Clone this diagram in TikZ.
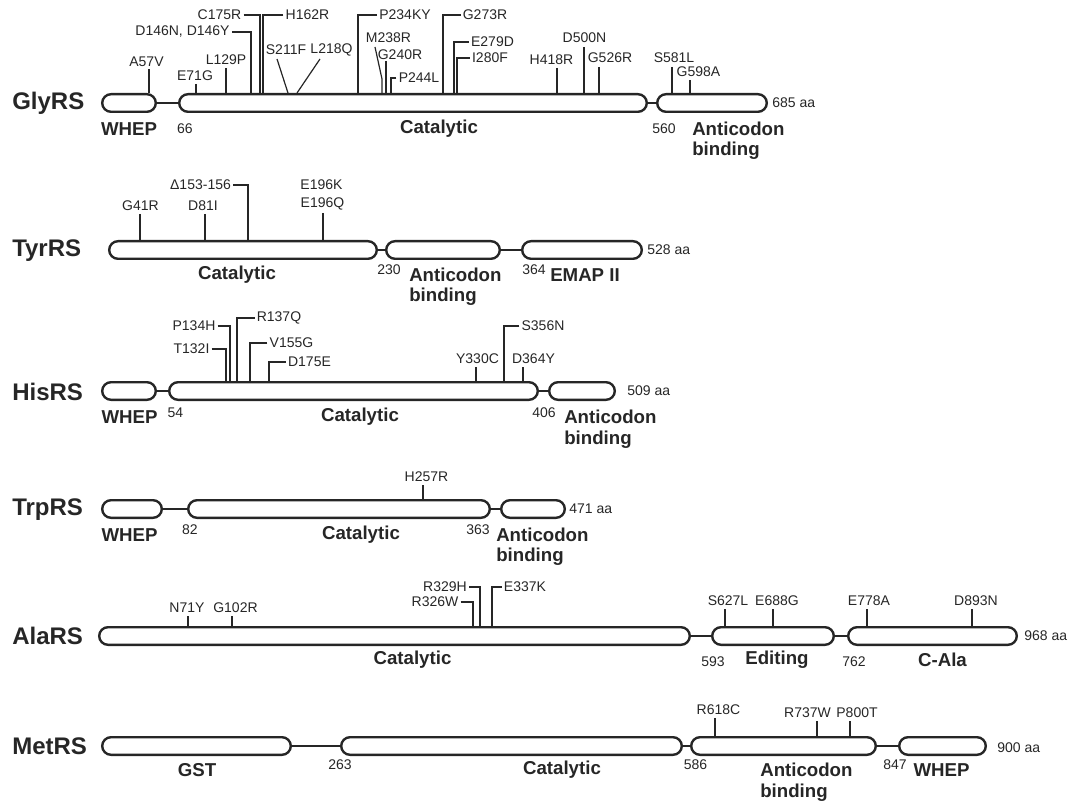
\documentclass[tikz,border=0pt]{standalone}
\usepackage{fontspec}
\setmainfont{Liberation Sans}
\usetikzlibrary{shapes.misc}
\definecolor{ink}{HTML}{262626}
\tikzset{
  dombox/.style={rounded rectangle, draw=ink, line width=1.8pt, minimum height=13.2pt, inner sep=0pt, fill=white},
  linker/.style={draw=ink, line width=1.6pt},
  tick/.style={draw=ink, line width=0.9pt},
  mut/.style={text=ink, font=\fontsize{10.5}{12}\selectfont, inner sep=1.5pt},
  num/.style={text=ink, font=\fontsize{10.5}{12}\selectfont, inner sep=0pt},
  dlab/.style={text=ink, font=\fontsize{14}{16}\selectfont\bfseries, inner sep=0pt},
  pname/.style={text=ink, font=\fontsize{18}{20}\selectfont\bfseries, inner sep=0pt, anchor=west},
}
\newcommand\mkdom[4]{\node[dombox, minimum width={(#3-#2)*0.75pt-1.8pt}] (#1) at ({(#2+#3)/2},#4) {};}
\begin{document}
\begin{tikzpicture}[x=0.75pt,y=-0.75pt]
\path[use as bounding box] (0,0) rectangle (1072,806);

% ================= GlyRS =================
\node[pname] (nGly) at (12,103) {GlyRS};
\mkdom{g1}{101}{157}{103}
\mkdom{g2}{178}{648}{103}
\mkdom{g3}{656}{768}{103}
\draw[linker] (g1.east) -- (g2.west);
\draw[linker] (g2.east) -- (g3.west);
\node[num, anchor=west] (gLen) at (772,103) {685 aa};
\node[dlab] (gD1) at (129,129) {WHEP};
\node[num] (g66) at (185,129) {66};
\node[dlab] (gD2) at (439,129) {Catalytic};
\node[num] (g560) at (664,129) {560};
\node[dlab, anchor=west] (gD3) at (692,129) {Anticodon};
\node[dlab, anchor=west] (gD3b) at (692,151) {binding};

\node[mut] (mA57V) at (146.5,62) {A57V};
\draw[tick] (149,69) -- (149,93);
\node[mut] (mE71G) at (195,76) {E71G};
\draw[tick] (196,84) -- (196,93);
\node[mut] (mL129P) at (226,60) {L129P};
\draw[tick] (226,68) -- (226,93);
\node[mut] (mD146) at (182.5,32) {D146N, D146Y};
\draw[tick] (mD146.east) -| (251,93);
\node[mut] (mC175R) at (219.5,15) {C175R};
\draw[tick] (mC175R.east) -| (260,93);
\node[mut] (mH162R) at (307.5,15) {H162R};
\draw[tick] (mH162R.west) -| (263,93);
\node[mut] (mS211F) at (286,50) {S211F};
\draw[tick] (277,59) -- (288,93);
\node[mut] (mL218Q) at (331.5,50) {L218Q};
\draw[tick] (320,59) -- (297,93);
\node[mut] (mP234KY) at (405,15) {P234KY};
\draw[tick] (mP234KY.west) -| (358,93);
\node[mut] (mM238R) at (388.5,38) {M238R};
\draw[tick] (375,47) -- (382,79) -- (382,93);
\node[mut] (mG240R) at (400,55) {G240R};
\draw[tick] (386,61) -- (386,93);
\node[mut] (mP244L) at (419,78) {P244L};
\draw[tick] (mP244L.west) -| (391,93);
\node[mut] (mG273R) at (485,15) {G273R};
\draw[tick] (mG273R.west) -| (443,93);
\node[mut] (mE279D) at (492.5,42) {E279D};
\draw[tick] (mE279D.west) -| (454,93);
\node[mut] (mI280F) at (490,58) {I280F};
\draw[tick] (mI280F.west) -| (457,93);
\node[mut] (mH418R) at (551.5,60) {H418R};
\draw[tick] (557,68) -- (557,93);
\node[mut] (mD500N) at (584.5,38) {D500N};
\draw[tick] (584,47) -- (584,93);
\node[mut] (mG526R) at (610,58) {G526R};
\draw[tick] (599,67) -- (599,93);
\node[mut] (mS581L) at (674,58) {S581L};
\draw[tick] (672,67) -- (672,93);
\node[mut] (mG598A) at (698.5,72) {G598A};
\draw[tick] (690,80) -- (690,93);

% ================= TyrRS =================
\node[pname] (nTyr) at (12,251) {TyrRS};
\mkdom{y1}{108}{378}{250}
\mkdom{y2}{385}{501}{250}
\mkdom{y3}{521}{643}{250}
\draw[linker] (y1.east) -- (y2.west);
\draw[linker] (y2.east) -- (y3.west);
\node[num, anchor=west] (yLen) at (647,250) {528 aa};
\node[dlab] (yD1) at (237,275) {Catalytic};
\node[num] (y230) at (389,270) {230};
\node[dlab, anchor=west] (yD2) at (409,275) {Anticodon};
\node[dlab, anchor=west] (yD2b) at (409,297) {binding};
\node[num] (y364) at (534,270) {364};
\node[dlab] (yD3) at (585,275) {EMAP II};

\node[mut] (mG41R) at (140.5,206) {G41R};
\draw[tick] (140,214) -- (140,240);
\node[mut] (mD81I) at (203,206) {D81I};
\draw[tick] (205,214) -- (205,240);
\node[mut] (mDel) at (200.5,185) {Δ153-156};
\draw[tick] (mDel.east) -| (248,240);
\node[mut] (mE196K) at (321.5,185) {E196K};
\node[mut] (mE196Q) at (322.5,204) {E196Q};
\draw[tick] (323,213) -- (323,240);

% ================= HisRS =================
\node[pname] (nHis) at (12,392) {HisRS};
\mkdom{h1}{101}{157}{391}
\mkdom{h2}{168}{539}{391}
\mkdom{h3}{548}{616}{391}
\draw[linker] (h1.east) -- (h2.west);
\draw[linker] (h2.east) -- (h3.west);
\node[num, anchor=west] (hLen) at (627,391) {509 aa};
\node[dlab] (hD1) at (129.5,417) {WHEP};
\node[num] (h54) at (175.5,413) {54};
\node[dlab] (hD2) at (360,417) {Catalytic};
\node[num] (h406) at (544,413) {406};
\node[dlab, anchor=west] (hD3) at (564,417) {Anticodon};
\node[dlab, anchor=west] (hD3b) at (564,440) {binding};

\node[mut] (mP134H) at (194,326) {P134H};
\draw[tick] (mP134H.east) -| (230,381);
\node[mut] (mR137Q) at (279,318) {R137Q};
\draw[tick] (mR137Q.west) -| (237,381);
\node[mut] (mT132I) at (191.5,349) {T132I};
\draw[tick] (mT132I.east) -| (226,381);
\node[mut] (mV155G) at (291.5,343) {V155G};
\draw[tick] (mV155G.west) -| (250,381);
\node[mut] (mD175E) at (309.5,362) {D175E};
\draw[tick] (mD175E.west) -| (269,381);
\node[mut] (mY330C) at (477.5,359) {Y330C};
\draw[tick] (476,367) -- (476,381);
\node[mut] (mS356N) at (543,326) {S356N};
\draw[tick] (mS356N.west) -| (504,381);
\node[mut] (mD364Y) at (533.5,359) {D364Y};
\draw[tick] (523,367) -- (523,381);

% ================= TrpRS =================
\node[pname] (nTrp) at (12,510) {TrpRS};
\mkdom{t1}{101}{163}{509}
\mkdom{t2}{187}{491}{509}
\mkdom{t3}{500}{566}{509}
\draw[linker] (t1.east) -- (t2.west);
\draw[linker] (t2.east) -- (t3.west);
\node[num, anchor=west] (tLen) at (569,509) {471 aa};
\node[dlab] (tD1) at (129.5,535) {WHEP};
\node[num] (t82) at (190,530) {82};
\node[dlab] (tD2) at (361,535) {Catalytic};
\node[num] (t363) at (478,530) {363};
\node[dlab, anchor=west] (tD3) at (496,535) {Anticodon};
\node[dlab, anchor=west] (tD3b) at (496,557) {binding};

\node[mut] (mH257R) at (426.5,477) {H257R};
\draw[tick] (423,485) -- (423,499);

% ================= AlaRS =================
\node[pname] (nAla) at (12,636) {AlaRS};
\mkdom{a1}{98}{691}{636}
\mkdom{a2}{711}{835}{636}
\mkdom{a3}{847}{1018}{636}
\draw[linker] (a1.east) -- (a2.west);
\draw[linker] (a2.east) -- (a3.west);
\node[num, anchor=west] (aLen) at (1024,636) {968 aa};
\node[dlab] (aD1) at (412.5,660) {Catalytic};
\node[num] (a593) at (713,662) {593};
\node[dlab] (aD2) at (777,660) {Editing};
\node[num] (a762) at (854,662) {762};
\node[dlab] (aD3) at (942.5,660) {C-Ala};

\node[mut] (mN71Y) at (187,608) {N71Y};
\draw[tick] (188,616) -- (188,626);
\node[mut] (mG102R) at (235.5,608) {G102R};
\draw[tick] (232,616) -- (232,626);
\node[mut] (mR329H) at (445,587) {R329H};
\draw[tick] (mR329H.east) -| (480,626);
\node[mut] (mR326W) at (435,602) {R326W};
\draw[tick] (mR326W.east) -| (473,626);
\node[mut] (mE337K) at (525,587) {E337K};
\draw[tick] (mE337K.west) -| (492,626);
\node[mut] (mS627L) at (728,601) {S627L};
\draw[tick] (725,609) -- (725,626);
\node[mut] (mE688G) at (777,601) {E688G};
\draw[tick] (773,609) -- (773,626);
\node[mut] (mE778A) at (869,601) {E778A};
\draw[tick] (867,609) -- (867,626);
\node[mut] (mD893N) at (976,601) {D893N};
\draw[tick] (972,609) -- (972,626);

% ================= MetRS =================
\node[pname] (nMet) at (12,746) {MetRS};
\mkdom{e1}{101}{292}{746}
\mkdom{e2}{340}{683}{746}
\mkdom{e3}{690}{877}{746}
\mkdom{e4}{898}{987}{746}
\draw[linker] (e1.east) -- (e2.west);
\draw[linker] (e2.east) -- (e3.west);
\draw[linker] (e3.east) -- (e4.west);
\node[num, anchor=west] (eLen) at (997,748) {900 aa};
\node[dlab] (eD1) at (197,770) {GST};
\node[num] (e263) at (340,765) {263};
\node[dlab] (eD2) at (562,770) {Catalytic};
\node[num] (e586) at (695.5,765) {586};
\node[dlab, anchor=west] (eD3) at (760,770) {Anticodon};
\node[dlab, anchor=west] (eD3b) at (760,793) {binding};
\node[num] (e847) at (895,765) {847};
\node[dlab] (eD4) at (941.5,770) {WHEP};

\node[mut] (mR618C) at (718.5,710) {R618C};
\draw[tick] (715,718) -- (715,736);
\node[mut] (mR737W) at (807.5,713) {R737W};
\draw[tick] (817,721) -- (817,736);
\node[mut] (mP800T) at (857,713) {P800T};
\draw[tick] (850,721) -- (850,736);
\end{tikzpicture}
\end{document}
